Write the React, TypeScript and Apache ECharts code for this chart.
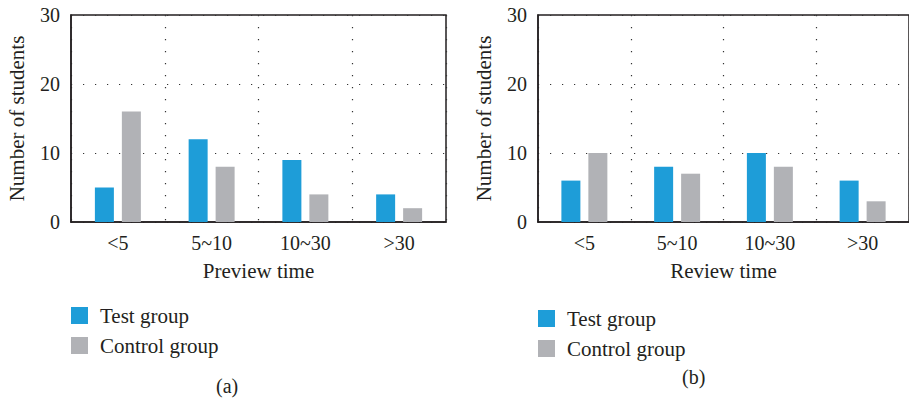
import React, { useEffect, useRef } from "react";
import * as echarts from "echarts";

const categories = ["<5", "5~10", "10~30", ">30"];
const previewTest = [5, 12, 9, 4];
const previewControl = [16, 8, 4, 2];
const reviewTest = [6, 8, 10, 6];
const reviewControl = [10, 7, 8, 3];
const seriesNames = ["Test group", "Control group"];
const xNames = ["Preview time", "Review time"];
const yName = "Number of students";
const panelLabels = ["(a)", "(b)"];

const FONT = "'Liberation Serif', 'Times New Roman', serif";
const TXT = "#231f20";
const BLUE = "#1e9dd8";
const GRAY = "#b1b2b6";

export default function App() {
  const ref = useRef<HTMLDivElement>(null);
  useEffect(() => {
    document.body.style.margin = "0";
    const chart = echarts.init(ref.current!, null, { renderer: "svg" });
    const grids = [
      { left: 71, top: 15, width: 375, height: 207 },
      { left: 538, top: 15, width: 378, height: 207 },
    ];
    const xAxis = [0, 1].map((i) => ({
      type: "category",
      gridIndex: i,
      data: categories,
      name: xNames[i],
      nameLocation: "middle",
      nameGap: 38,
      nameTextStyle: { fontFamily: FONT, fontSize: 21, color: TXT },
      axisLine: { show: true, lineStyle: { color: TXT, width: 1.5 } },
      axisTick: { show: false },
      axisLabel: { fontFamily: FONT, fontSize: 20, color: TXT, margin: 11 },
      splitLine: { show: true, lineStyle: { color: "#333", width: 1.2, type: [1.2, 10.8] } },
    }));
    const yAxis = [0, 1].map((i) => ({
      type: "value",
      gridIndex: i,
      min: 0,
      max: 30,
      interval: 10,
      name: yName,
      nameLocation: "middle",
      nameGap: 44,
      nameTextStyle: { fontFamily: FONT, fontSize: 21, color: TXT },
      axisLine: { show: true, lineStyle: { color: TXT, width: 1.5 } },
      axisTick: { show: false },
      axisLabel: { fontFamily: FONT, fontSize: 20, color: TXT, margin: 11 },
      splitLine: { show: true, lineStyle: { color: "#333", width: 1.2, type: [1.2, 10.8] } },
    }));
    const data = [
      [previewTest, previewControl],
      [reviewTest, reviewControl],
    ];
    const series: any[] = [];
    [0, 1].forEach((g) => {
      [0, 1].forEach((s) => {
        series.push({
          type: "bar",
          name: seriesNames[s],
          xAxisIndex: g,
          yAxisIndex: g,
          data: data[g][s],
          barWidth: 19,
          barGap: "42%",
          itemStyle: { color: s === 0 ? BLUE : GRAY },
        });
      });
    });
    chart.setOption({
      animation: false,
      backgroundColor: "#fff",
      grid: grids.map((g) => ({ ...g, show: true, borderColor: TXT, borderWidth: 1.5, backgroundColor: "transparent" })),
      xAxis,
      yAxis,
      series,
      legend: [
        { left: 71, top: 305, orient: "vertical" },
        { left: 538, top: 308, orient: "vertical" },
      ].map((l) => ({
        ...l,
        padding: 0,
        data: seriesNames,
        icon: "rect",
        itemWidth: 17,
        itemHeight: 17,
        itemGap: 9,
        selectedMode: false,
        textStyle: { fontFamily: FONT, fontSize: 21, color: TXT, padding: [0, 0, 0, 7] },
      })),
      graphic: [
        { type: "text", left: 216, top: 376, style: { text: panelLabels[0], font: `20px ${FONT}`, fill: TXT } },
        { type: "text", left: 682, top: 367, style: { text: panelLabels[1], font: `20px ${FONT}`, fill: TXT } },
      ],
    });
    return () => chart.dispose();
  }, []);
  return <div ref={ref} style={{ width: 909, height: 402 }} />;
}
